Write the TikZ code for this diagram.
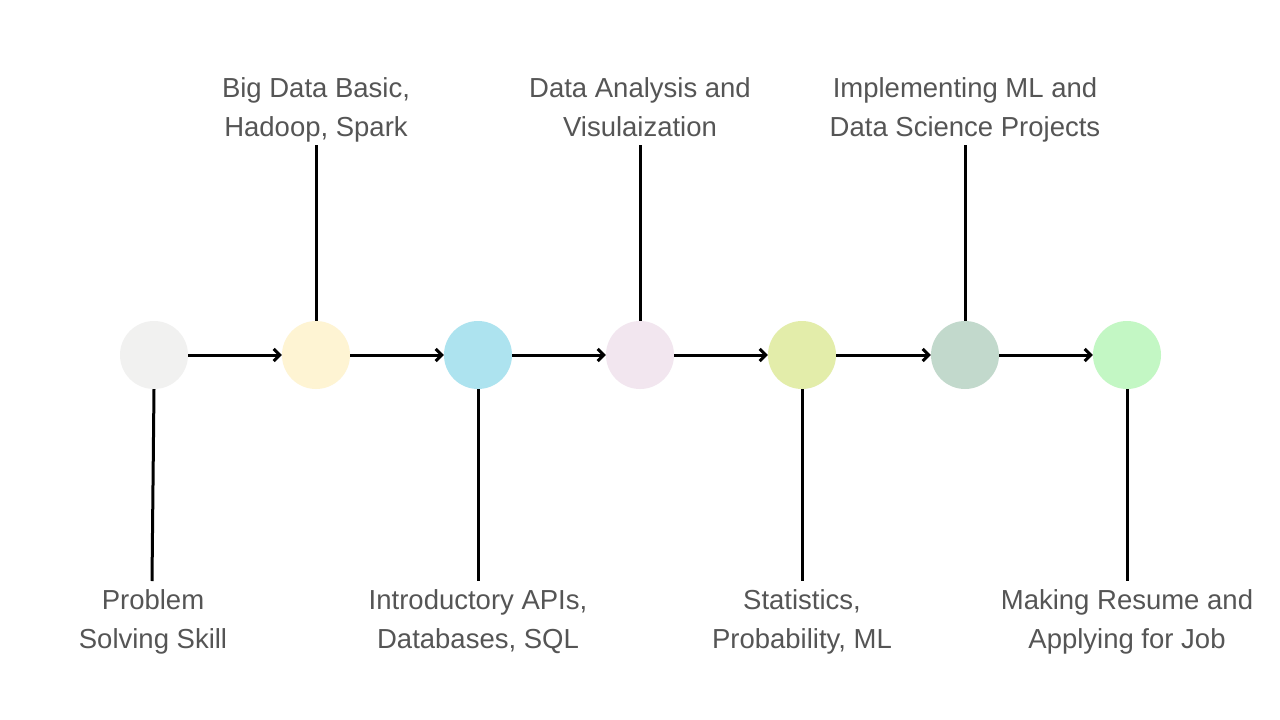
\documentclass[tikz,border=0pt]{standalone}
\usepackage{fontspec}
\setmainfont{Liberation Sans}
\usetikzlibrary{arrows.meta}
\definecolor{cA}{HTML}{F1F1F0}
\definecolor{cB}{HTML}{FEF4D3}
\definecolor{cC}{HTML}{ADE3EF}
\definecolor{cD}{HTML}{F2E6EF}
\definecolor{cE}{HTML}{E3EDAA}
\definecolor{cF}{HTML}{C2D9CC}
\definecolor{cG}{HTML}{C3F7C4}
\definecolor{txt}{HTML}{555555}
\tikzset{
  dot/.style={circle,minimum size=68pt,inner sep=0pt,fill=#1},
  flow/.style={line width=3pt,-{Straight Barb[length=6pt,width=12pt,line width=3pt]}},
  stem/.style={line width=3pt},
  lbl/.style={text=txt,align=center,inner sep=0pt,font=\fontsize{27.5}{39}\selectfont}
}
\begin{document}
\begin{tikzpicture}[x=1pt,y=-1pt]
\useasboundingbox[fill=white] (0,0) rectangle (1280,720);
\node[dot=cA] (c1) at (154,355) {};
\node[dot=cB] (c2) at (316,355) {};
\node[dot=cC] (c3) at (478,355) {};
\node[dot=cD] (c4) at (640,355) {};
\node[dot=cE] (c5) at (802,355) {};
\node[dot=cF] (c6) at (965,355) {};
\node[dot=cG] (c7) at (1127,355) {};
\draw[flow] (c1) -- (c2);
\draw[flow] (c2) -- (c3);
\draw[flow] (c3) -- (c4);
\draw[flow] (c4) -- (c5);
\draw[flow] (c5) -- (c6);
\draw[flow] (c6) -- (c7);
% top labels
\node[lbl] (l2) at (316,109.5) {\strut Big Data Basic,\\\strut Hadoop, Spark};
\node[lbl] (l4) at (640,109.5) {\strut Data Analysis and\\\strut Visulaization};
\node[lbl] (l6) at (965,109.5) {\strut Implementing ML and\\\strut Data Science Projects};
% bottom labels
\node[lbl] (l1) at (153,621.5) {\strut Problem\\\strut Solving Skill};
\node[lbl] (l3) at (478,621.5) {\strut Introductory APIs,\\\strut Databases, SQL};
\node[lbl] (l5) at (802,621.5) {\strut Statistics,\\\strut Probability, ML};
\node[lbl] (l7) at (1127,621.5) {\strut Making Resume and\\\strut Applying for Job};
% stems
\coordinate (t2) at (316,145);
\coordinate (t4) at (640,145);
\coordinate (t6) at (965,145);
\coordinate (b1) at (152,581);
\coordinate (b3) at (478,581);
\coordinate (b5) at (802,581);
\coordinate (b7) at (1127,581);
\draw[stem] (c2.north) -- (t2);
\draw[stem] (c4.north) -- (t4);
\draw[stem] (c6.north) -- (t6);
\draw[stem] (c1.south) -- (b1);
\draw[stem] (c3.south) -- (b3);
\draw[stem] (c5.south) -- (b5);
\draw[stem] (c7.south) -- (b7);
\end{tikzpicture}
\end{document}
